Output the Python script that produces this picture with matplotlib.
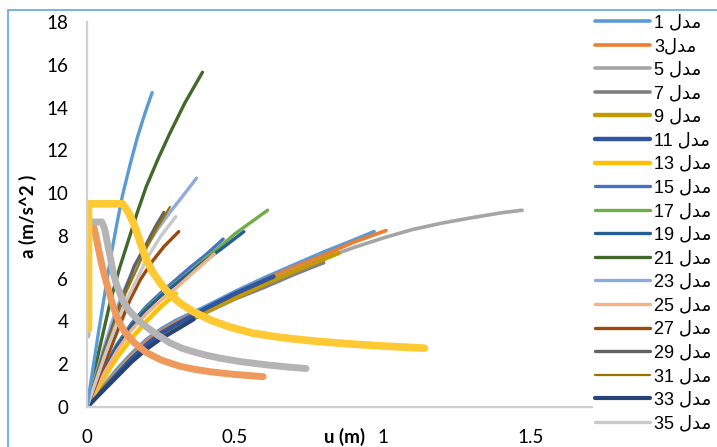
import matplotlib
matplotlib.use("Agg")
import matplotlib.pyplot as plt
from matplotlib.patches import Rectangle

# ---------------- data ----------------
names = ["مدل 1", "مدل3", "مدل 5", "مدل 7", "مدل 9", "مدل 11", "مدل 13", "مدل 15",
         "مدل 17", "مدل 19", "مدل 21", "مدل 23", "مدل 25", "مدل 27", "مدل 29",
         "مدل 31", "مدل 33", "مدل 35"]
extra_names = ["مدل 37", "مدل 39", "مدل 41", "مدل 43"]

u_1 = [0, 0.05, 0.1, 0.15, 0.2, 0.25, 0.3, 0.4, 0.5, 0.6, 0.7, 0.8, 0.9, 0.97]
a_1 = [0, 0.9, 1.75, 2.5, 3.15, 3.65, 4.05, 4.7, 5.4, 6.05, 6.65, 7.25, 7.8, 8.2]
u_3 = [0, 0.05, 0.1, 0.15, 0.2, 0.25, 0.3, 0.4, 0.5, 0.6, 0.7, 0.8, 0.9, 1.01]
a_3 = [0, 0.85, 1.65, 2.4, 3.05, 3.55, 3.95, 4.6, 5.3, 5.95, 6.55, 7.1, 7.7, 8.25]
u_5 = [0, 0.05, 0.1, 0.15, 0.2, 0.25, 0.3, 0.4, 0.5, 0.6, 0.7, 0.8, 0.9, 1.0, 1.1, 1.2, 1.3, 1.4, 1.47]
a_5 = [0, 0.82, 1.6, 2.35, 2.95, 3.45, 3.85, 4.5, 5.2, 5.8, 6.4, 6.95, 7.45, 7.9, 8.3, 8.6, 8.85, 9.08, 9.2]
u_7 = [0, 0.05, 0.1, 0.15, 0.2, 0.25, 0.3, 0.4, 0.5, 0.6, 0.7, 0.8]
a_7 = [0, 0.78, 1.5, 2.2, 2.8, 3.3, 3.7, 4.4, 5.05, 5.6, 6.2, 6.75]
u_9 = [0, 0.05, 0.1, 0.15, 0.2, 0.25, 0.3, 0.4, 0.5, 0.6, 0.7, 0.85]
a_9 = [0, 0.8, 1.55, 2.25, 2.85, 3.35, 3.75, 4.45, 5.1, 5.75, 6.35, 7.2]
u_11 = [0, 0.05, 0.1, 0.15, 0.2, 0.25, 0.3, 0.4, 0.5, 0.63]
a_11 = [0, 0.75, 1.5, 2.25, 2.9, 3.45, 3.85, 4.6, 5.3, 6.1]
u_13 = [0, 0.05, 0.1, 0.15, 0.2, 0.25, 0.3]
a_13 = [0, 1.2, 2.3, 3.2, 4.0, 4.7, 5.3]
u_15 = [0, 0.05, 0.1, 0.15, 0.2, 0.25, 0.3, 0.35, 0.4, 0.46]
a_15 = [0, 1.6, 2.9, 3.9, 4.7, 5.35, 5.95, 6.55, 7.1, 7.85]
u_17 = [0, 0.05, 0.1, 0.15, 0.2, 0.25, 0.3, 0.35, 0.4, 0.45, 0.5, 0.55, 0.61]
a_17 = [0, 1.5, 2.8, 3.8, 4.6, 5.25, 5.8, 6.35, 6.95, 7.5, 8.1, 8.6, 9.2]
u_19 = [0, 0.05, 0.1, 0.15, 0.2, 0.25, 0.3, 0.35, 0.4, 0.45, 0.53]
a_19 = [0, 1.5, 2.8, 3.8, 4.55, 5.2, 5.75, 6.3, 6.85, 7.35, 8.2]
u_21 = [0, 0.02, 0.04, 0.06, 0.08, 0.11, 0.14, 0.17, 0.2, 0.24, 0.28, 0.33, 0.39]
a_21 = [0, 1.3, 2.6, 3.8, 5.0, 6.5, 7.8, 9.1, 10.3, 11.6, 12.8, 14.2, 15.65]
u_23 = [0, 0.03, 0.06, 0.09, 0.12, 0.16, 0.2, 0.24, 0.28, 0.32, 0.37]
a_23 = [0, 1.5, 2.9, 4.2, 5.3, 6.5, 7.5, 8.35, 9.1, 9.8, 10.7]
u_25 = [0, 0.05, 0.1, 0.15, 0.2, 0.25, 0.3, 0.36, 0.43]
a_25 = [0, 1.4, 2.6, 3.6, 4.35, 5.0, 5.55, 6.3, 7.15]
u_27 = [0, 0.04, 0.07, 0.11, 0.145, 0.18, 0.22, 0.26, 0.31]
a_27 = [0, 1.4, 2.4, 3.8, 5.0, 5.95, 6.8, 7.5, 8.2]
u_29 = [0, 0.03, 0.06, 0.1, 0.13, 0.16, 0.2, 0.23, 0.26]
a_29 = [0, 1.35, 2.7, 4.3, 5.5, 6.6, 7.6, 8.4, 9.1]
u_31 = [0, 0.03, 0.06, 0.1, 0.13, 0.17, 0.2, 0.24, 0.28]
a_31 = [0, 1.35, 2.6, 4.15, 5.3, 6.5, 7.4, 8.45, 9.35]
u_33 = [0, 0.05, 0.1, 0.15, 0.2, 0.25, 0.3, 0.36]
a_33 = [0, 0.7, 1.4, 2.1, 2.7, 3.2, 3.6, 4.1]
u_35 = [0, 0.03, 0.06, 0.1, 0.13, 0.17, 0.2, 0.25, 0.3]
a_35 = [0, 1.2, 2.4, 3.9, 4.9, 6.0, 6.9, 8.0, 8.9]
u_37 = [0, 0.02, 0.04, 0.06, 0.08, 0.1, 0.12, 0.145, 0.17, 0.195, 0.22]
a_37 = [0, 1.8, 3.6, 5.3, 7.0, 8.5, 9.9, 11.3, 12.6, 13.7, 14.7]
u_39 = [0.02, 0.03, 0.04, 0.05, 0.06, 0.07, 0.08, 0.09, 0.1, 0.115, 0.13, 0.16, 0.2,
        0.25, 0.31, 0.36, 0.42, 0.5, 0.595]
a_39 = [8.6, 8.0, 7.3, 6.65, 6.1, 5.6, 5.1, 4.65, 4.25, 3.8, 3.45, 3.0, 2.55,
        2.2, 1.92, 1.77, 1.64, 1.52, 1.42]
u_41 = [0, 0, 0.05, 0.06, 0.07, 0.08, 0.09, 0.1, 0.12, 0.14, 0.17, 0.2, 0.24, 0.28,
        0.32, 0.36, 0.4, 0.45, 0.52, 0.6, 0.67, 0.74]
a_41 = [3.35, 8.65, 8.65, 8.3, 7.6, 6.9, 6.2, 5.7, 5.0, 4.55, 4.1, 3.75, 3.35, 3.0,
        2.75, 2.58, 2.43, 2.28, 2.12, 1.98, 1.88, 1.8]
u_43 = [0.005, 0.005, 0.12, 0.14, 0.16, 0.18, 0.2, 0.22, 0.25, 0.28, 0.32, 0.36, 0.42,
        0.48, 0.56, 0.63, 0.7, 0.77, 0.84, 0.92, 1.0, 1.07, 1.14]
a_43 = [3.65, 9.5, 9.5, 9.1, 8.5, 7.7, 6.9, 6.35, 5.75, 5.25, 4.8, 4.45, 4.05,
        3.75, 3.45, 3.3, 3.18, 3.08, 3.0, 2.92, 2.85, 2.8, 2.75]

x_ticks = [0, 0.5, 1, 1.5]
x_tick_labels = ["0", "0.5", "1", "1.5"]
y_ticks = [0, 2, 4, 6, 8, 10, 12, 14, 16, 18]

colors = ["#5B9BD5", "#ED7D31", "#A5A5A5", "#7F7F7F", "#C59A00", "#2F55A0",
          "#FFC000", "#4472C4", "#70AD47", "#255E91", "#43682B", "#8FAADC",
          "#F4B183", "#9E480E", "#636363", "#997300", "#264478", "#C9C9C9"]
extra_colors = ["#5B9BD5", "#F0995C", "#B4B4B4", "#FFC933"]

series = [(u_1, a_1), (u_3, a_3), (u_5, a_5), (u_7, a_7), (u_9, a_9), (u_11, a_11),
          (u_13, a_13), (u_15, a_15), (u_17, a_17), (u_19, a_19), (u_21, a_21),
          (u_23, a_23), (u_25, a_25), (u_27, a_27), (u_29, a_29), (u_31, a_31),
          (u_33, a_33), (u_35, a_35)]
extra_series = [(u_37, a_37), (u_39, a_39), (u_41, a_41), (u_43, a_43)]
widths = [2.6, 2.6, 2.6, 2.6, 3.2, 3.2, 3.2, 2.4, 2.4, 2.4, 2.4, 2.4, 2.4, 2.4,
          2.4, 1.6, 3.0, 2.4]
extra_widths = [2.4, 5.0, 5.0, 5.5]


def shape_visual(s):
    """Arabic word with contextual forms, laid out right-to-left."""
    word = "مدل"
    shaped = "\uFEDD\uFEAA\uFEE3"  # ل(isolated) د(final) م(initial), visual order
    rest = s.replace(word, "")
    num = rest.strip()
    sep = " " if rest.startswith(" ") else ""
    return num + sep + shaped


AXFONT = ["Lato", "DejaVu Sans"]
LEGFONT = ["Liberation Sans", "DejaVu Sans"]
plt.rcParams["font.family"] = AXFONT

fig = plt.figure(figsize=(7.17, 4.47), dpi=100)
W, H = 717, 447
ax = fig.add_axes([87 / W, (H - 407) / H, (592 - 87) / W, (407 - 22) / H])

handles = []
for (u, a), c, lw, nm in zip(series, colors, widths, names):
    ln, = ax.plot(u, a, color=c, lw=lw, solid_capstyle="round",
                  solid_joinstyle="round", label=shape_visual(nm))
    handles.append(ln)
for (u, a), c, lw, nm in zip(extra_series, extra_colors, extra_widths, extra_names):
    ax.plot(u, a, color=c, lw=lw, solid_capstyle="round",
            solid_joinstyle="round", label="_" + nm)

ax.set_xlim(0, 1.706)
ax.set_ylim(0, 18)
ax.set_xticks(x_ticks)
ax.set_xticklabels(x_tick_labels)
ax.set_yticks(y_ticks)
ax.tick_params(axis="both", length=0, labelsize=13.5, colors="#000000")
ax.tick_params(axis="x", pad=15.5)
ax.tick_params(axis="y", pad=13.5)
for s in ["top", "right"]:
    ax.spines[s].set_visible(False)
for s in ["left", "bottom"]:
    ax.spines[s].set_color("#D0D0D0")
    ax.spines[s].set_linewidth(1.6)

ax.set_xlabel("u (m)", fontsize=13.5, fontweight="bold")
ax.xaxis.set_label_coords((345 - 87) / 505, (407 - 437) / 385)
ax.xaxis.label.set_va("center")
ax.set_ylabel("a (m/s^2 )", fontsize=13.5, fontweight="bold")
ax.yaxis.set_label_coords((28 - 87) / 505, (407 - 216) / 385)
ax.yaxis.label.set_va("center")

fig.legend(handles=handles, labels=[h.get_label() for h in handles],
           loc="upper left", bbox_to_anchor=(590 / W, 1 - 9 / H),
           frameon=False, handlelength=3.0, handletextpad=0.25,
           labelspacing=0.364, borderaxespad=0, borderpad=0.3,
           prop={"family": LEGFONT, "size": 13})

fig.patches.append(Rectangle((8 / W, -0.1), 1.2, (H - 10) / H + 0.1,
                             transform=fig.transFigure, fill=False,
                             edgecolor="#5FA3E0", lw=1.2, zorder=-5))

fig.savefig("out.png", dpi=100)
